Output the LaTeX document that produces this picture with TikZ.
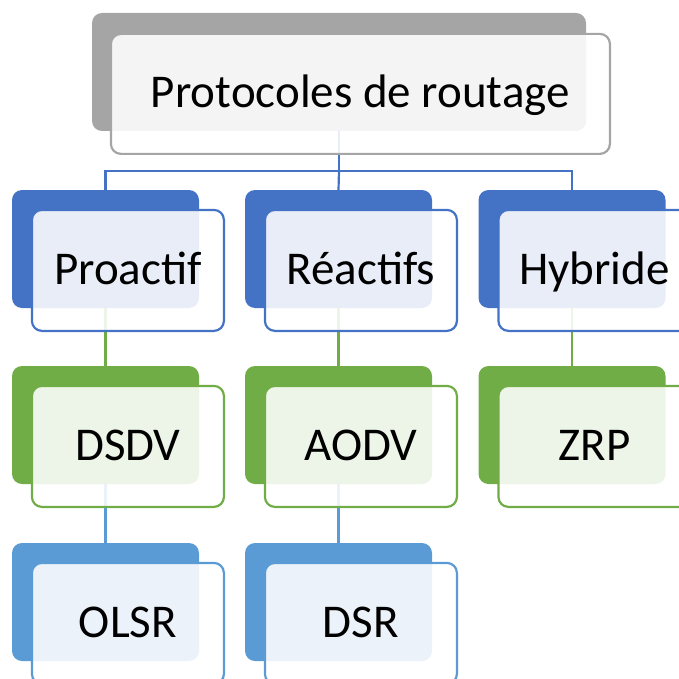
\documentclass[tikz,border=0pt]{standalone}
\usepackage{fontspec}
\setmainfont{Carlito}
\usetikzlibrary{positioning}
\definecolor{rootgray}{HTML}{A5A5A5}
\definecolor{levelblue}{HTML}{4472C4}
\definecolor{levelgreen}{HTML}{70AD47}
\definecolor{levelsky}{HTML}{5B9BD5}

\begin{document}
\begin{tikzpicture}
            [x=1pt, y=-1pt,
             backbox/.style={rectangle, rounded corners=10pt, fill=#1, minimum width=187pt, minimum height=118pt, inner sep=0pt},
             frontbox/.style={rectangle, rounded corners=10pt, draw=#1, line width=2.2pt, fill=white, fill opacity=0.88, text opacity=1,
                              minimum width=192pt, minimum height=121pt, inner sep=0pt, text height=40pt, text depth=12pt,
                              font=\fontsize{47}{56}\selectfont},
             link/.style={line width=2.2pt, draw=#1}]
            \clip (0,0) rectangle (679,679);

            % back boxes
            \node[backbox=rootgray, minimum width=494pt] (rootbk) at (339, 72) {};
            \node[backbox=levelblue] (proactbk) at (105.5, 249) {};
            \node[backbox=levelblue] (reactbk) at (338.5, 249) {};
            \node[backbox=levelblue] (hybbk) at (572, 249) {};
            \node[backbox=levelgreen] (dsdvbk) at (105.5, 425) {};
            \node[backbox=levelgreen] (aodvbk) at (338.5, 425) {};
            \node[backbox=levelgreen] (zrpbk) at (572, 425) {};
            \node[backbox=levelsky] (olsrbk) at (105.5, 602) {};
            \node[backbox=levelsky] (dsrbk) at (338.5, 602) {};

            % connectors
            \coordinate (bus) at (339, 171);
            \path [link=levelblue] (rootbk.south) -- (bus) -| (proactbk.north);
            \path [link=levelblue] (bus) -- (reactbk.north);
            \path [link=levelblue] (bus) -| (hybbk.north);
            \path [link=levelgreen] (proactbk.south) -- (dsdvbk.north);
            \path [link=levelgreen] (reactbk.south) -- (aodvbk.north);
            \path [link=levelgreen] (hybbk.south) -- (zrpbk.north);
            \path [link=levelsky] (dsdvbk.south) -- (olsrbk.north);
            \path [link=levelsky] (aodvbk.south) -- (dsrbk.north);

            % front boxes
            \node[frontbox=rootgray, minimum width=499pt, minimum height=120pt, below right=20pt and 18pt of rootbk.north west] (root) {Protocoles de routage};
            \node[frontbox=levelblue, below right=19pt and 19pt of proactbk.north west] (proact) {Proactif};
            \node[frontbox=levelblue, below right=19pt and 19pt of reactbk.north west] (react) {Réactifs};
            \node[frontbox=levelblue, below right=19pt and 19pt of hybbk.north west] (hyb) {Hybride};
            \node[frontbox=levelgreen, below right=19pt and 19pt of dsdvbk.north west] (dsdv) {DSDV};
            \node[frontbox=levelgreen, below right=19pt and 19pt of aodvbk.north west] (aodv) {AODV};
            \node[frontbox=levelgreen, below right=19pt and 19pt of zrpbk.north west] (zrp) {ZRP};
            \node[frontbox=levelsky, below right=19pt and 19pt of olsrbk.north west] (olsr) {OLSR};
            \node[frontbox=levelsky, below right=19pt and 19pt of dsrbk.north west] (dsr) {DSR};
        \end{tikzpicture}
\end{document}
